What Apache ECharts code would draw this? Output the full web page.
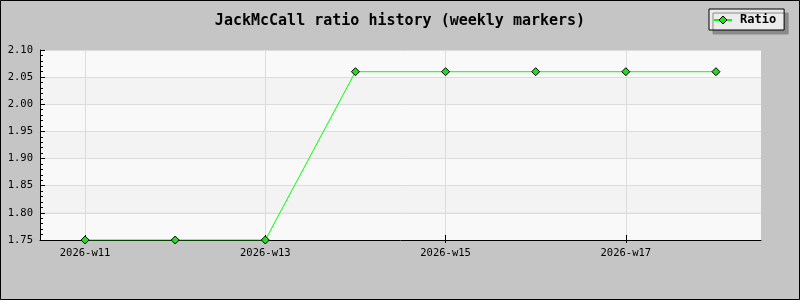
<!DOCTYPE html>
<html><head><meta charset="utf-8">
<script src="https://cdn.jsdelivr.net/npm/echarts@6/dist/echarts.min.js"></script>
<style>html,body{margin:0;padding:0;background:#c5c5c5}#c{width:800px;height:300px}</style>
</head><body><div id="c"></div>
<script>
const categories = ['2026-w11','2026-w12','2026-w13','2026-w14','2026-w15','2026-w16','2026-w17','2026-w18'];
const ratioValues = [1.75, 1.75, 1.75, 2.06, 2.06, 2.06, 2.06, 2.06];
const yMin = 1.75, yMax = 2.10, yStep = 0.05;
const titleText = 'JackMcCall ratio history (weekly markers)';
const seriesName = 'Ratio';
const mono = '"DejaVu Sans Mono", "Liberation Mono", monospace';

const chart = echarts.init(document.getElementById('c'), null, {renderer:'canvas'});
chart.setOption({
  backgroundColor: '#c5c5c5',
  animation: false,
  title: {
    text: titleText, left: 'center', top: 9,
    textStyle: {fontFamily: mono, fontWeight: 'bold', fontSize: 15, color: '#000'}
  },
  legend: {
    data: [seriesName], left: 709, top: 9,
    padding: [5, 8, 4, 4],
    itemWidth: 18, itemHeight: 10, itemGap: 5,
    backgroundColor: '#ececec', borderColor: '#000', borderWidth: 1,
    shadowColor: '#8a8a8a', shadowOffsetX: 4, shadowOffsetY: 4, shadowBlur: 0,
    itemStyle: {color: '#22dd22', borderColor: '#000', borderWidth: 1},
    textStyle: {fontFamily: mono, fontWeight: 'bold', fontSize: 12, color: '#000', padding: [0,0,0,3]}
  },
  grid: {left: 40, right: 39, top: 50, bottom: 60, containLabel: false, show: false},
  xAxis: [{
    type: 'category', data: categories, boundaryGap: true,
    axisLine: {lineStyle: {color: '#000', width: 1}},
    axisTick: {show: true, alignWithLabel: true, interval: 1, length: 3, lineStyle: {color: '#000'}},
    axisLabel: {interval: 1, margin: 8, fontFamily: mono, fontSize: 10.5, color: '#000'},
    splitLine: {show: true, alignWithLabel: true, interval: 1, lineStyle: {color: '#dcdcdc', width: 1}}
  }, {
    type: 'category', data: categories, boundaryGap: true, position: 'bottom',
    axisLine: {show: false},
    axisTick: {show: true, inside: true, alignWithLabel: true, interval: 1, length: 5, lineStyle: {color: '#000'}},
    axisLabel: {show: false}, splitLine: {show: false}
  }],
  yAxis: {
    type: 'value', min: yMin, max: yMax, interval: yStep,
    axisLine: {show: true, lineStyle: {color: '#000', width: 1}},
    axisTick: {show: true, inside: true, length: 5, lineStyle: {color: '#000'}},
    minorTick: {show: true, splitNumber: 5, length: 3, lineStyle: {color: '#000'}},
    axisLabel: {margin: 7, fontFamily: mono, fontSize: 10.5, color: '#000', formatter: v => v.toFixed(2)},
    splitLine: {show: true, lineStyle: {color: '#dcdcdc', width: 1}},
    splitArea: {show: true, areaStyle: {color: ['#f9f9f9', '#f3f3f3']}}
  },
  series: [{
    name: seriesName, type: 'line', data: ratioValues,
    symbol: 'diamond', symbolSize: 8, showAllSymbol: true,
    lineStyle: {color: '#00ff00', width: 1},
    itemStyle: {color: '#22dd22', borderColor: '#000', borderWidth: 1},
    emphasis: {disabled: true}
  }],
  graphic: [{
    type: 'rect', shape: {x: 0.5, y: 0.5, width: 799, height: 299},
    style: {fill: 'none', stroke: '#000', lineWidth: 1}, silent: true, z: 100
  }]
});
</script></body></html>
